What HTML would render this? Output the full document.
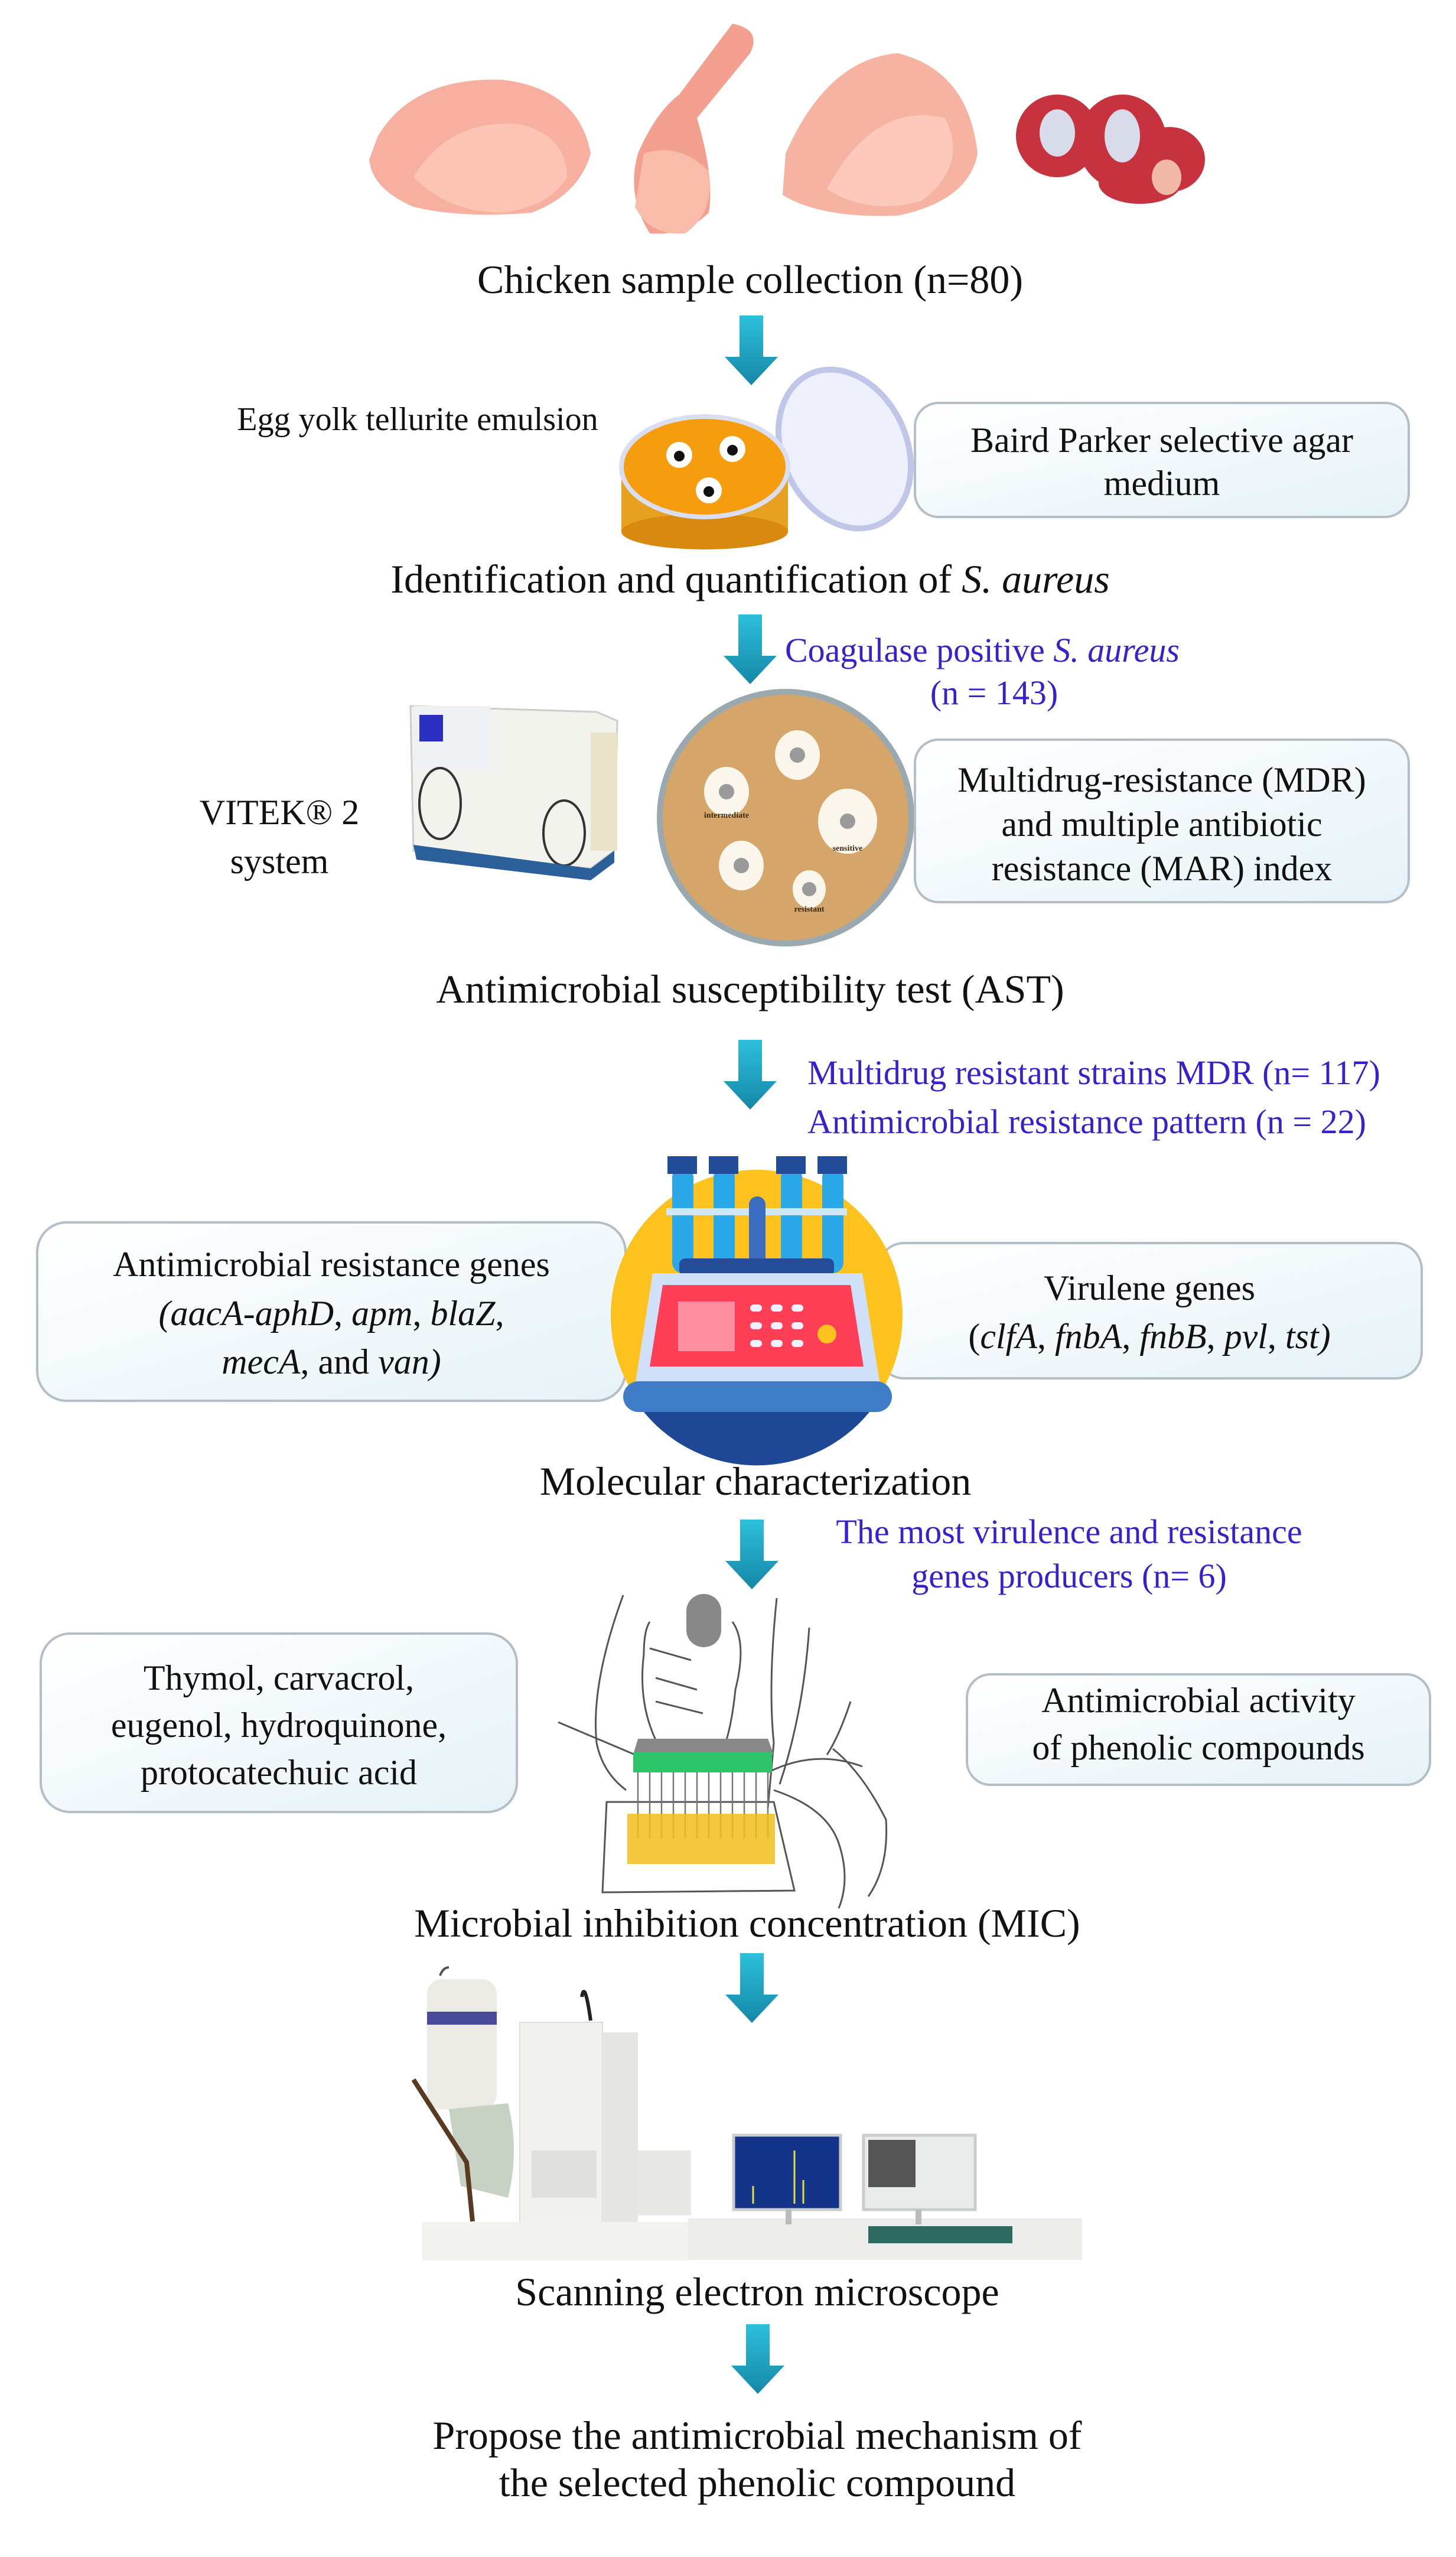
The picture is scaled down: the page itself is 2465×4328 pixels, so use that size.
<!DOCTYPE html>
<html><head><meta charset="utf-8"><style>
html,body{margin:0;padding:0;background:#fff}
svg{display:block}
text{font-family:"Liberation Serif",serif}
.m{font-size:68px;fill:#111;text-anchor:middle}
.b{font-size:60px;fill:#111;text-anchor:middle}
.p{font-size:58px;fill:#3a1fcf}
</style></head><body>
<svg width="2465" height="4328" viewBox="0 0 2465 4328" xmlns="http://www.w3.org/2000/svg">
<defs>
<linearGradient id="ar" x1="0" y1="0" x2="0" y2="1"><stop offset="0" stop-color="#2cc0dc"/><stop offset="1" stop-color="#1587a6"/></linearGradient>
<linearGradient id="bx" x1="0" y1="0" x2="1" y2="1"><stop offset="0" stop-color="#ffffff"/><stop offset="1" stop-color="#e6f2f8"/></linearGradient>
<symbol id="arrow" viewBox="0 0 90 120" overflow="visible"><path d="M25 0 H65 V70 H90 L45 118 L0 70 H25 Z" fill="url(#ar)"/></symbol>
</defs>

<!-- chicken pieces -->
<path d="M640 230 Q700 130 850 135 Q980 150 1000 260 Q980 330 900 360 Q780 370 700 350 Q630 320 625 270 Z" fill="#f7b0a0"/>
<path d="M700 300 Q760 200 880 210 Q960 230 960 300 Q930 350 850 360 Q760 360 700 300Z" fill="#fbc4b5"/>
<path d="M1240 40 Q1290 50 1270 90 L1180 200 Q1210 300 1200 360 Q1160 400 1100 395 Q1060 330 1080 260 Q1110 190 1150 160 Z" fill="#f4a090"/>
<path d="M1090 260 Q1150 240 1200 290 Q1210 360 1160 395 Q1100 400 1075 350 Z" fill="#f9bcaa"/>
<path d="M1330 260 Q1400 100 1520 90 Q1640 120 1655 260 Q1640 340 1520 365 Q1390 370 1325 330 Z" fill="#f7b3a2"/>
<path d="M1400 320 Q1480 170 1600 200 Q1640 280 1560 340 Q1470 365 1400 320Z" fill="#fcc9ba"/>
<g fill="#c7323f"><ellipse cx="1790" cy="230" rx="70" ry="70"/><ellipse cx="1900" cy="240" rx="75" ry="80"/><ellipse cx="1980" cy="270" rx="60" ry="55"/><ellipse cx="1930" cy="310" rx="70" ry="35"/></g>
<g fill="#d8dcea"><ellipse cx="1790" cy="225" rx="30" ry="40"/><ellipse cx="1900" cy="230" rx="30" ry="45"/></g>
<ellipse cx="1975" cy="300" rx="25" ry="30" fill="#f2b8a8"/>

<text class="m" x="1270" y="496">Chicken sample collection (n=80)</text>
<use href="#arrow" x="1227" y="534" width="90" height="120"/>

<!-- petri 1 -->
<text class="b" x="707" y="728" style="font-size:56px">Egg yolk tellurite emulsion</text>
<ellipse cx="1430" cy="760" rx="105" ry="140" transform="rotate(-25 1430 760)" fill="#eef0fb" stroke="#c0c6e8" stroke-width="10"/>
<rect x="1052" y="800" width="282" height="100" fill="#e8a020"/>
<ellipse cx="1193" cy="900" rx="141" ry="30" fill="#d88a10"/>
<ellipse cx="1193" cy="790" rx="141" ry="85" fill="#f59d0f" stroke="#d9dff0" stroke-width="8"/>
<g fill="#fff"><circle cx="1150" cy="770" r="22"/><circle cx="1240" cy="760" r="22"/><circle cx="1200" cy="830" r="22"/></g>
<g fill="#111"><circle cx="1150" cy="772" r="9"/><circle cx="1240" cy="762" r="9"/><circle cx="1200" cy="832" r="9"/></g>

<rect x="1549" y="682" width="836" height="193" rx="40" fill="url(#bx)" stroke="#b4bec6" stroke-width="4"/>
<text class="b" x="1967" y="765">Baird Parker selective agar</text>
<text class="b" x="1967" y="838">medium</text>

<text class="m" x="1270" y="1003">Identification and quantification of <tspan font-style="italic">S. aureus</tspan></text>
<use href="#arrow" x="1225" y="1040" width="90" height="120"/>
<text class="p" x="1329" y="1120">Coagulase positive <tspan font-style="italic">S. aureus</tspan></text>
<text class="p" x="1683" y="1192" text-anchor="middle">(n = 143)</text>

<!-- VITEK -->
<text class="b" x="473" y="1395">VITEK® 2</text>
<text class="b" x="473" y="1478">system</text>
<path d="M695 1195 L1010 1205 L1045 1220 L1040 1440 L1000 1470 L700 1440 Z" fill="#f3f3ee" stroke="#ccc" stroke-width="3"/>
<rect x="700" y="1195" width="130" height="110" fill="#eef0f4"/>
<rect x="710" y="1210" width="40" height="45" fill="#2a2fc0"/>
<ellipse cx="745" cy="1360" rx="35" ry="60" fill="none" stroke="#333" stroke-width="4"/>
<ellipse cx="955" cy="1410" rx="35" ry="55" fill="none" stroke="#333" stroke-width="4"/>
<rect x="1000" y="1240" width="45" height="200" fill="#e8e2c8"/>
<path d="M700 1430 L1000 1470 L1040 1440 L1040 1460 L1000 1490 L705 1455Z" fill="#2a5f9a"/>

<!-- AST petri -->
<circle cx="1330" cy="1384" r="213" fill="#d6a56a" stroke="#9aa8b0" stroke-width="10"/>
<g fill="#fbf6ec"><ellipse cx="1350" cy="1278" rx="38" ry="42"/><ellipse cx="1230" cy="1340" rx="38" ry="42"/><ellipse cx="1435" cy="1390" rx="50" ry="55"/><ellipse cx="1255" cy="1465" rx="38" ry="42"/><ellipse cx="1370" cy="1505" rx="28" ry="32"/></g>
<g fill="#9a9a9a"><circle cx="1350" cy="1278" r="13"/><circle cx="1230" cy="1340" r="13"/><circle cx="1435" cy="1390" r="13"/><circle cx="1255" cy="1465" r="13"/><circle cx="1370" cy="1505" r="12"/></g>
<g font-family="Liberation Sans" font-size="14" font-weight="bold" fill="#3a2a10" text-anchor="middle"><text x="1230" y="1384">intermediate</text><text x="1435" y="1440">sensitive</text><text x="1370" y="1543">resistant</text></g>

<rect x="1549" y="1252" width="836" height="275" rx="40" fill="url(#bx)" stroke="#b4bec6" stroke-width="4"/>
<text class="b" x="1967" y="1340">Multidrug-resistance (MDR)</text>
<text class="b" x="1967" y="1415">and multiple antibiotic</text>
<text class="b" x="1967" y="1490">resistance (MAR) index</text>

<text class="m" x="1270" y="1697">Antimicrobial susceptibility test (AST)</text>
<use href="#arrow" x="1225" y="1760" width="90" height="120"/>
<text class="p" x="1367" y="1835">Multidrug resistant strains MDR (n= 117)</text>
<text class="p" x="1367" y="1918">Antimicrobial resistance pattern (n = 22)</text>

<!-- boxes behind icon -->
<rect x="63" y="2069" width="996" height="302" rx="50" fill="url(#bx)" stroke="#b4bec6" stroke-width="4"/>
<rect x="1486" y="2104" width="921" height="229" rx="45" fill="url(#bx)" stroke="#b4bec6" stroke-width="4"/>
<!-- molecular icon -->
<circle cx="1281" cy="2227" r="247" fill="#fdc21d"/>
<path d="M1090 2390 A247 247 0 0 0 1472 2390 Z" fill="#1e4796"/>
<g fill="#2aa8e8"><rect x="1138" y="1975" width="36" height="180" rx="18"/><rect x="1208" y="1975" width="36" height="180" rx="18"/><rect x="1322" y="1975" width="36" height="180" rx="18"/><rect x="1392" y="1975" width="36" height="180" rx="18"/></g>
<g fill="#224c98"><rect x="1130" y="1957" width="50" height="30"/><rect x="1200" y="1957" width="50" height="30"/><rect x="1314" y="1957" width="50" height="30"/><rect x="1384" y="1957" width="50" height="30"/></g>
<rect x="1128" y="2045" width="306" height="12" fill="#cfe6f5"/>
<rect x="1268" y="2025" width="28" height="120" rx="14" fill="#3a6cc0"/>
<rect x="1150" y="2130" width="262" height="30" rx="10" fill="#244c98"/>
<path d="M1105 2155 H1460 L1490 2345 H1075Z" fill="#cfe0f8"/>
<path d="M1122 2175 H1440 L1462 2313 H1100Z" fill="#ff3f55"/>
<rect x="1148" y="2203" width="96" height="84" fill="#ff8fa0"/>
<g fill="#f0f0ff"><rect x="1270" y="2208" width="20" height="12" rx="6"/><rect x="1305" y="2208" width="20" height="12" rx="6"/><rect x="1340" y="2208" width="20" height="12" rx="6"/><rect x="1270" y="2238" width="20" height="12" rx="6"/><rect x="1305" y="2238" width="20" height="12" rx="6"/><rect x="1340" y="2238" width="20" height="12" rx="6"/><rect x="1270" y="2268" width="20" height="12" rx="6"/><rect x="1305" y="2268" width="20" height="12" rx="6"/><rect x="1340" y="2268" width="20" height="12" rx="6"/></g>
<circle cx="1400" cy="2258" r="16" fill="#fdc21d"/>
<rect x="1055" y="2338" width="455" height="52" rx="26" fill="#3f7cc8"/>

<text class="b" x="561" y="2160">Antimicrobial resistance genes</text>
<text class="b" x="561" y="2243" font-style="italic">(aacA-aphD<tspan font-style="normal">, </tspan>apm<tspan font-style="normal">, </tspan>blaZ<tspan font-style="normal">,</tspan></text>
<text class="b" x="561" y="2325"><tspan font-style="italic">mecA</tspan>,  and <tspan font-style="italic">van)</tspan></text>
<text class="b" x="1946" y="2200">Virulene genes</text>
<text class="b" x="1946" y="2282">(<tspan font-style="italic">clfA</tspan>, <tspan font-style="italic">fnbA</tspan>, <tspan font-style="italic">fnbB</tspan>, <tspan font-style="italic">pvl</tspan>, <tspan font-style="italic">tst)</tspan></text>

<text class="m" x="1279" y="2530">Molecular characterization</text>
<use href="#arrow" x="1228" y="2572" width="90" height="120"/>
<text class="p" x="1810" y="2612" text-anchor="middle">The most virulence and resistance</text>
<text class="p" x="1810" y="2687" text-anchor="middle">genes producers  (n= 6)</text>

<!-- pipette drawing -->
<g fill="none" stroke="#555" stroke-width="3">
<path d="M1055 2700 Q1000 2850 1010 2950 Q1020 3000 1060 3030"/>
<path d="M1315 2705 Q1300 2850 1310 2950 L1300 3060"/>
<path d="M1100 2745 Q1090 2760 1090 2800 Q1080 2880 1110 2945"/>
<path d="M1240 2745 Q1265 2780 1245 2860 Q1240 2910 1230 2945"/>
<path d="M1100 2790 L1170 2810 M1110 2840 L1180 2860 M1110 2880 L1190 2900"/>
<path d="M945 2915 L1075 2970"/>
<path d="M1370 2755 Q1360 2900 1320 3020"/>
<path d="M1027 3050 L1310 3050 L1345 3200 L1020 3203Z"/>
<path d="M1310 3030 Q1400 3060 1420 3120 Q1440 3180 1420 3230"/>
<path d="M1410 2960 Q1460 3000 1500 3080 Q1505 3160 1470 3210"/>
<path d="M1300 3000 Q1380 2960 1460 2990"/>
<path d="M1440 2880 Q1420 2940 1400 2970"/>
</g>
<rect x="1162" y="2698" width="59" height="90" rx="29" fill="#888"/>
<path d="M1080 2943 H1300 L1310 2970 H1072Z" fill="#888"/>
<rect x="1072" y="2966" width="235" height="34" fill="#2dc46a"/>
<g stroke="#777" stroke-width="2.5"><path d="M1080 3000V3112M1100 3000V3112M1120 3000V3112M1140 3000V3112M1160 3000V3112M1180 3000V3112M1200 3000V3112M1220 3000V3112M1240 3000V3112M1260 3000V3112M1280 3000V3112M1300 3000V3112"/></g>
<rect x="1062" y="3070" width="250" height="85" fill="#f2be1c" opacity="0.85"/>

<rect x="69" y="2765" width="806" height="302" rx="50" fill="url(#bx)" stroke="#b4bec6" stroke-width="4"/>
<text class="b" x="472" y="2860">Thymol, carvacrol,</text>
<text class="b" x="472" y="2940">eugenol, hydroquinone,</text>
<text class="b" x="472" y="3020">protocatechuic acid</text>
<rect x="1637" y="2834" width="784" height="187" rx="40" fill="url(#bx)" stroke="#b4bec6" stroke-width="4"/>
<text class="b" x="2029" y="2898">Antimicrobial activity</text>
<text class="b" x="2029" y="2978">of phenolic compounds</text>

<text class="m" x="1265" y="3278">Microbial inhibition concentration (MIC)</text>
<use href="#arrow" x="1228" y="3306" width="90" height="120"/>

<!-- SEM -->
<path d="M745 3344 Q750 3330 760 3330" stroke="#555" stroke-width="4" fill="none"/>
<rect x="723" y="3350" width="118" height="220" rx="25" fill="#ecebe3"/>
<rect x="723" y="3405" width="118" height="22" fill="#4a4a9a"/>
<path d="M760 3570 L860 3560 Q880 3640 860 3720 L780 3700 Z" fill="#c8d2c4"/>
<path d="M700 3520 L790 3660 L800 3760" stroke="#5a3a20" stroke-width="8" fill="none"/>
<rect x="880" y="3423" width="140" height="380" fill="#f1f1ee" stroke="#ddd" stroke-width="2"/>
<rect x="1020" y="3440" width="60" height="360" fill="#e6e6e2"/>
<path d="M985 3380 Q990 3350 1000 3420" stroke="#222" stroke-width="6" fill="none"/>
<rect x="900" y="3640" width="110" height="80" fill="#e0e0dc"/>
<rect x="1080" y="3640" width="90" height="110" fill="#e8e8e4"/>
<rect x="715" y="3761" width="460" height="65" fill="#f2f2f0"/>
<rect x="1165" y="3755" width="667" height="70" fill="#ececea"/>
<rect x="1242" y="3614" width="181" height="126" fill="#14348a" stroke="#ccc" stroke-width="5"/>
<path d="M1275 3730 V3700 M1345 3730 V3640 M1360 3730 V3690" stroke="#e0e040" stroke-width="3"/>
<rect x="1462" y="3614" width="189" height="126" fill="#e8ecea" stroke="#ccc" stroke-width="5"/>
<rect x="1470" y="3622" width="80" height="80" fill="#555"/>
<rect x="1330" y="3740" width="10" height="25" fill="#bbb"/><rect x="1550" y="3740" width="10" height="25" fill="#bbb"/>
<rect x="1470" y="3768" width="244" height="29" fill="#2f6a60"/>

<text class="m" x="1282" y="3902">Scanning electron microscope</text>
<use href="#arrow" x="1238" y="3934" width="90" height="120"/>
<text class="m" x="1282" y="4145">Propose the antimicrobial mechanism of</text>
<text class="m" x="1282" y="4225">the selected phenolic compound</text>
</svg>
</body></html>
